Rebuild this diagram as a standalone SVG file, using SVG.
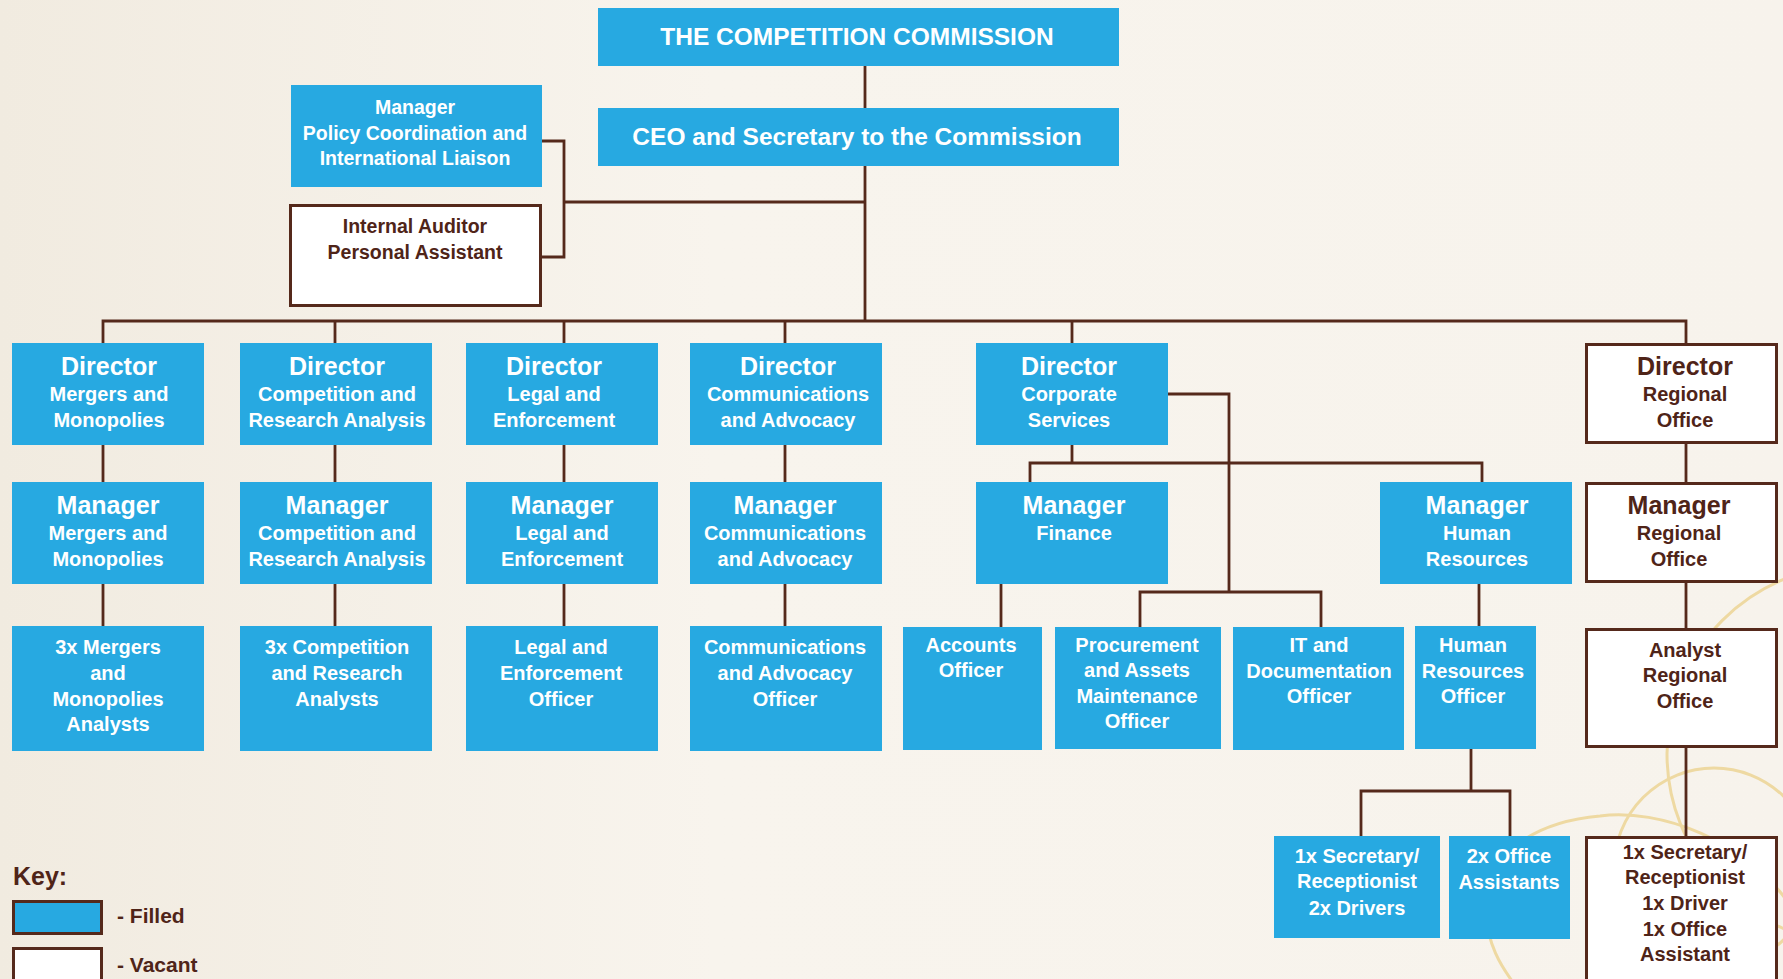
<svg xmlns="http://www.w3.org/2000/svg" width="1783" height="979" viewBox="0 0 1783 979">
<defs>
<linearGradient id="paper" x1="0" y1="0" x2="1" y2="0">
<stop offset="0" stop-color="#f1ebe0"/>
<stop offset="0.4" stop-color="#f8f4ed"/>
<stop offset="1" stop-color="#f7f3ec"/>
</linearGradient>
<style>
.bg{fill:url(#paper)}
.f{fill:#27a9e1}
.v{fill:#ffffff;stroke:#55291b;stroke-width:3}
.kf{fill:#27a9e1;stroke:#55291b;stroke-width:3}
.ln{fill:none;stroke:#55291b;stroke-width:2.8}
.arc{fill:none;stroke:#eed9a2;stroke-width:3}
text{font-family:"Liberation Sans",Arial,sans-serif;font-weight:bold;text-anchor:middle}
.w{fill:#ffffff}
.b{fill:#4f2418}
.h{font-size:24.5px}
.t{font-size:25px}
.s{font-size:20px}
.p{font-size:19.5px}
.k{text-anchor:start;fill:#4f2418}
</style>
</defs>
<rect class="bg" x="0" y="0" width="1783" height="979"/>
<g id="decor">
<path class="arc" d="M1790,905 C1745,840 1660,808 1600,816 C1530,822 1480,860 1485,910 C1488,945 1500,965 1515,985"/>
<circle class="arc" cx="1714" cy="868" r="100"/>
<circle class="arc" cx="1856" cy="754" r="189"/>
</g>
<g id="connectors">
<path class="ln" d="M865,66 V108"/>
<path class="ln" d="M865,166 V321"/>
<path class="ln" d="M564,202 H865"/>
<path class="ln" d="M542,141 H564 V257 H542"/>
<path class="ln" d="M103,343 V321 H1686 V343"/>
<path class="ln" d="M335,321 V343 M564,321 V343 M785,321 V343 M1072,321 V343"/>
<path class="ln" d="M103,445 V482 M335,445 V482 M564,445 V482 M785,445 V482 M1686,444 V482"/>
<path class="ln" d="M103,584 V626 M335,584 V626 M564,584 V626 M785,584 V626 M1686,583 V628"/>
<path class="ln" d="M1072,445 V463 M1030,482 V463 H1482 V482"/>
<path class="ln" d="M1168,394 H1229 V592 M1140,627 V592 H1321 V627"/>
<path class="ln" d="M1001,584 V627"/>
<path class="ln" d="M1479,584 V626"/>
<path class="ln" d="M1471,749 V791 M1361,836 V791 H1510 V836"/>
<path class="ln" d="M1686,748 V837"/>
</g>
<g id="commission">
<rect class="f" x="598" y="8" width="521" height="58"/>
<text class="w h" x="857" y="45">THE COMPETITION COMMISSION</text>
</g>
<g id="ceo">
<rect class="f" x="598" y="108" width="521" height="58"/>
<text class="w h" x="857" y="145">CEO and Secretary to the Commission</text>
</g>
<g id="policy">
<rect class="f" x="291" y="85" width="251" height="102"/>
<text class="w p" x="415" y="114">Manager</text>
<text class="w p" x="415" y="139.5">Policy Coordination and</text>
<text class="w p" x="415" y="165">International Liaison</text>
</g>
<g id="auditor">
<rect class="v" x="290.5" y="205.5" width="250" height="100"/>
<text class="b p" x="415" y="233">Internal Auditor</text>
<text class="b p" x="415" y="259">Personal Assistant</text>
</g>
<g id="dir-mergers">
<rect class="f" x="12" y="343" width="192" height="102"/>
<text class="w t" x="109" y="375">Director</text>
<text class="w s" x="109" y="401">Mergers and</text>
<text class="w s" x="109" y="427">Monopolies</text>
</g>
<g id="dir-competition">
<rect class="f" x="240" y="343" width="192" height="102"/>
<text class="w t" x="337" y="375">Director</text>
<text class="w s" x="337" y="401">Competition and</text>
<text class="w s" x="337" y="427">Research Analysis</text>
</g>
<g id="dir-legal">
<rect class="f" x="466" y="343" width="192" height="102"/>
<text class="w t" x="554" y="375">Director</text>
<text class="w s" x="554" y="401">Legal and</text>
<text class="w s" x="554" y="427">Enforcement</text>
</g>
<g id="dir-comm">
<rect class="f" x="690" y="343" width="192" height="102"/>
<text class="w t" x="788" y="375">Director</text>
<text class="w s" x="788" y="401">Communications</text>
<text class="w s" x="788" y="427">and Advocacy</text>
</g>
<g id="dir-corporate">
<rect class="f" x="976" y="343" width="192" height="102"/>
<text class="w t" x="1069" y="375">Director</text>
<text class="w s" x="1069" y="401">Corporate</text>
<text class="w s" x="1069" y="427">Services</text>
</g>
<g id="dir-regional">
<rect class="v" x="1586.5" y="344.5" width="190" height="98"/>
<text class="b t" x="1685" y="375">Director</text>
<text class="b s" x="1685" y="401">Regional</text>
<text class="b s" x="1685" y="427">Office</text>
</g>
<g id="mgr-mergers">
<rect class="f" x="12" y="482" width="192" height="102"/>
<text class="w t" x="108" y="514">Manager</text>
<text class="w s" x="108" y="540">Mergers and</text>
<text class="w s" x="108" y="566">Monopolies</text>
</g>
<g id="mgr-competition">
<rect class="f" x="240" y="482" width="192" height="102"/>
<text class="w t" x="337" y="514">Manager</text>
<text class="w s" x="337" y="540">Competition and</text>
<text class="w s" x="337" y="566">Research Analysis</text>
</g>
<g id="mgr-legal">
<rect class="f" x="466" y="482" width="192" height="102"/>
<text class="w t" x="562" y="514">Manager</text>
<text class="w s" x="562" y="540">Legal and</text>
<text class="w s" x="562" y="566">Enforcement</text>
</g>
<g id="mgr-comm">
<rect class="f" x="690" y="482" width="192" height="102"/>
<text class="w t" x="785" y="514">Manager</text>
<text class="w s" x="785" y="540">Communications</text>
<text class="w s" x="785" y="566">and Advocacy</text>
</g>
<g id="mgr-finance">
<rect class="f" x="976" y="482" width="192" height="102"/>
<text class="w t" x="1074" y="514">Manager</text>
<text class="w s" x="1074" y="540">Finance</text>
</g>
<g id="mgr-hr">
<rect class="f" x="1380" y="482" width="192" height="102"/>
<text class="w t" x="1477" y="514">Manager</text>
<text class="w s" x="1477" y="540">Human</text>
<text class="w s" x="1477" y="566">Resources</text>
</g>
<g id="mgr-regional">
<rect class="v" x="1586.5" y="483.5" width="190" height="98"/>
<text class="b t" x="1679" y="514">Manager</text>
<text class="b s" x="1679" y="540">Regional</text>
<text class="b s" x="1679" y="566">Office</text>
</g>
<g id="analysts-mergers">
<rect class="f" x="12" y="626" width="192" height="125"/>
<text class="w s" x="108" y="654">3x Mergers</text>
<text class="w s" x="108" y="680">and</text>
<text class="w s" x="108" y="706">Monopolies</text>
<text class="w s" x="108" y="731">Analysts</text>
</g>
<g id="analysts-competition">
<rect class="f" x="240" y="626" width="192" height="125"/>
<text class="w s" x="337" y="654">3x Competition</text>
<text class="w s" x="337" y="680">and Research</text>
<text class="w s" x="337" y="706">Analysts</text>
</g>
<g id="officer-legal">
<rect class="f" x="466" y="626" width="192" height="125"/>
<text class="w s" x="561" y="654">Legal and</text>
<text class="w s" x="561" y="680">Enforcement</text>
<text class="w s" x="561" y="706">Officer</text>
</g>
<g id="officer-comm">
<rect class="f" x="690" y="626" width="192" height="125"/>
<text class="w s" x="785" y="654">Communications</text>
<text class="w s" x="785" y="680">and Advocacy</text>
<text class="w s" x="785" y="706">Officer</text>
</g>
<g id="accounts">
<rect class="f" x="903" y="627" width="139" height="123"/>
<text class="w s" x="971" y="652">Accounts</text>
<text class="w s" x="971" y="677">Officer</text>
</g>
<g id="procurement">
<rect class="f" x="1055" y="627" width="166" height="122"/>
<text class="w s" x="1137" y="652">Procurement</text>
<text class="w s" x="1137" y="677">and Assets</text>
<text class="w s" x="1137" y="703">Maintenance</text>
<text class="w s" x="1137" y="728">Officer</text>
</g>
<g id="it">
<rect class="f" x="1233" y="627" width="171" height="123"/>
<text class="w s" x="1319" y="652">IT and</text>
<text class="w s" x="1319" y="678">Documentation</text>
<text class="w s" x="1319" y="703">Officer</text>
</g>
<g id="hr-officer">
<rect class="f" x="1415" y="626" width="121" height="123"/>
<text class="w s" x="1473" y="652">Human</text>
<text class="w s" x="1473" y="678">Resources</text>
<text class="w s" x="1473" y="703">Officer</text>
</g>
<g id="analyst-regional">
<rect class="v" x="1586.5" y="629.5" width="190" height="117"/>
<text class="b s" x="1685" y="657">Analyst</text>
<text class="b s" x="1685" y="682">Regional</text>
<text class="b s" x="1685" y="708">Office</text>
</g>
<g id="secretary-hr">
<rect class="f" x="1274" y="836" width="166" height="102"/>
<text class="w s" x="1357" y="863">1x Secretary/</text>
<text class="w s" x="1357" y="888">Receptionist</text>
<text class="w s" x="1357" y="915">2x Drivers</text>
</g>
<g id="office-assistants">
<rect class="f" x="1449" y="836" width="121" height="103"/>
<text class="w s" x="1509" y="863">2x Office</text>
<text class="w s" x="1509" y="889">Assistants</text>
</g>
<g id="secretary-regional">
<rect class="v" x="1586.5" y="837.5" width="190" height="160"/>
<text class="b s" x="1685" y="859">1x Secretary/</text>
<text class="b s" x="1685" y="884">Receptionist</text>
<text class="b s" x="1685" y="910">1x Driver</text>
<text class="b s" x="1685" y="936">1x Office</text>
<text class="b s" x="1685" y="961">Assistant</text>
</g>
<g id="key">
<text class="k" x="13" y="885" style="font-size:25px">Key:</text>
<rect class="kf" x="13.5" y="901.5" width="88" height="32"/>
<text class="k" x="117" y="923" style="font-size:21px">- Filled</text>
<rect class="v" x="13.5" y="948.5" width="88" height="40"/>
<text class="k" x="117" y="972" style="font-size:21px">- Vacant</text>
</g>
</svg>
